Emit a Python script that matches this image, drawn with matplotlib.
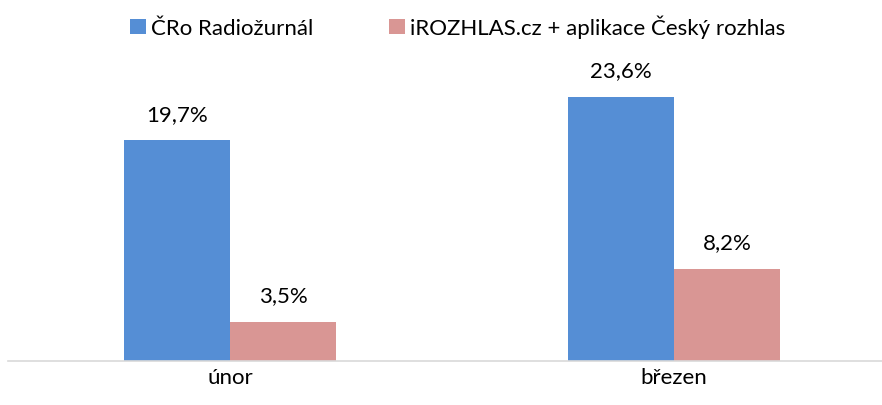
import matplotlib.pyplot as plt
import numpy as np

plt.rcParams['font.family'] = ['Lato', 'DejaVu Sans']

# data
months = ["únor", "březen"]
series = ["ČRo Radiožurnál", "iROZHLAS.cz + aplikace Český rozhlas"]
radiozurnal = [19.7, 23.6]
irozhlas = [3.5, 8.2]
colors = ["#558ED5", "#D99694"]

fig = plt.figure(figsize=(8.82, 4.06), dpi=100)
ax = fig.add_axes([8/882, 44/406, 888/882, 280/406])

x = np.arange(len(months))
w = 0.2387
b1 = ax.bar(x - w/2, radiozurnal, w, color=colors[0], label=series[0])
b2 = ax.bar(x + w/2, irozhlas, w, color=colors[1], label=series[1])

for bars in (b1, b2):
    for r in bars:
        v = r.get_height()
        ax.annotate(f"{v:.1f}%".replace(".", ","),
                    (r.get_x() + r.get_width()/2, v),
                    xytext=(0, 12), textcoords="offset points",
                    ha="center", va="bottom", fontsize=16)

ax.set_xlim(-0.5, 1.5)
ax.set_ylim(0, 25)
ax.set_xticks(x)
ax.set_xticklabels(months, fontsize=16)
ax.tick_params(axis="x", length=0, pad=4)
ax.set_yticks([])
for s in ["top", "left", "right"]:
    ax.spines[s].set_visible(False)
ax.spines["bottom"].set_color("#d9d9d9")
ax.spines["bottom"].set_linewidth(1.2)

fig.legend(loc="upper center", bbox_to_anchor=(458/882, 1.01), ncol=2,
           frameon=False, fontsize=16, handlelength=0.7, handleheight=0.7,
           handletextpad=0.25, columnspacing=3.4)

fig.savefig("out.png", dpi=100)
